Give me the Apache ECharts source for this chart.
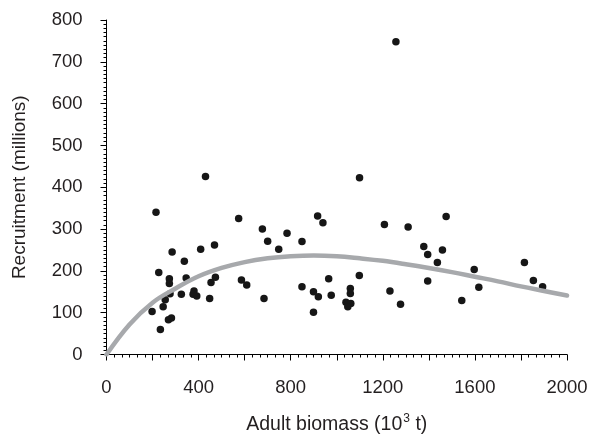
<!DOCTYPE html>
<html>
<head>
<meta charset="utf-8">
<script src="https://cdn.jsdelivr.net/npm/echarts@6/dist/echarts.min.js"></script>
<style>
  html, body { margin: 0; padding: 0; background: #fff; }
  #chart { width: 593px; height: 440px; }
</style>
</head>
<body>
<div id="chart"></div>
<script>
const biomass = [
    430, 215, 574, 469, 409, 285, 338, 227, 273, 346, 273, 473, 454, 586, 609,
    276, 325, 380, 376, 392, 448, 255, 246, 198, 269, 282, 234,
    1099, 677, 700, 748, 784, 849, 917, 940, 1207, 1310, 1378, 1395, 1395, 684,
    849, 899, 920, 899, 965, 976, 1059, 1059, 1040, 1061, 1048, 1098, 1231, 1277,
    1475, 1459, 1437, 1597, 1617, 1543, 1815, 1854, 1894,
    1257
];
const recruitment = [
    426, 340, 325, 262, 252, 245, 223, 196, 181, 183, 170, 185, 172, 178, 166,
    145, 144, 152, 144, 140, 134, 131, 114, 103, 83, 87, 60,
    423, 300, 271, 252, 290, 270, 331, 315, 311, 305, 258, 239, 176, 134,
    162, 150, 138, 101, 181, 142, 158, 146, 125, 122, 114, 189, 152, 120,
    330, 250, 220, 203, 161, 129, 220, 177, 162,
    748
];

// Fitted stock-recruitment curve, sampled from the figure every 100
const curveS = [0, 100, 200, 300, 400, 500, 600, 700, 800, 900, 1000,
                1100, 1200, 1300, 1400, 1500, 1600, 1700, 1800, 1900, 2000];
const curveR = [0, 72, 124, 158, 187, 207, 221, 230, 235, 237, 235,
                230, 224, 216, 207, 197, 186, 175, 163, 152, 141];

const xLabels = [0, 400, 800, 1200, 1600, 2000];

const points = biomass.map((s, i) => [s, recruitment[i]]);
const curve = curveS.map((s, i) => [s, curveR[i]]);

const font = 'Liberation Sans, Arial, Helvetica, sans-serif';
const textColor = '#231f20';

let chart = echarts.init(document.getElementById('chart'), null, { renderer: 'canvas' });

chart.setOption({
    backgroundColor: '#fff',
    animation: false,
    grid: { left: 106.5, right: 26, top: 20, bottom: 85, containLabel: false },
    xAxis: {
        type: 'value',
        min: 0,
        max: 2000,
        interval: 200,
        offset: 3.5,
        name: '{a|Adult biomass (10}{s|3}{a| t)}',
        nameLocation: 'middle',
        nameGap: 55,
        nameTextStyle: {
            rich: {
                a: { fontFamily: font, fontSize: 19.5, color: textColor, lineHeight: 24 },
                s: { fontFamily: font, fontSize: 12, color: textColor, verticalAlign: 'top', lineHeight: 14, padding: [0, 0, 0, 1] }
            }
        },
        axisLine: { show: true, lineStyle: { color: '#000', width: 1 } },
        axisTick: { show: true, length: 6, lineStyle: { color: '#000' } },
        minorTick: { show: true, splitNumber: 6, length: 3, lineStyle: { color: '#000' } },
        splitLine: { show: false },
        axisLabel: {
            margin: 20,
            fontFamily: font,
            fontSize: 18.5,
            color: textColor,
            formatter: v => xLabels.includes(v) ? String(v) : ''
        }
    },
    yAxis: {
        type: 'value',
        min: 0,
        max: 800,
        interval: 100,
        offset: 3,
        name: 'Recruitment (millions)',
        nameLocation: 'middle',
        nameRotate: 90,
        nameGap: 74,
        nameTextStyle: { fontFamily: font, fontSize: 19, color: textColor },
        axisLine: { show: true, lineStyle: { color: '#000', width: 1 } },
        axisTick: { show: true, length: 6, lineStyle: { color: '#000' } },
        minorTick: { show: true, splitNumber: 10, length: 3, lineStyle: { color: '#000' } },
        splitLine: { show: false },
        axisLabel: { margin: 21, fontFamily: font, fontSize: 18.5, color: textColor }
    },
    series: [
        {
            type: 'scatter',
            data: points,
            symbol: 'circle',
            symbolSize: 7.5,
            itemStyle: { color: '#161616', opacity: 1 },
            z: 2
        },
        {
            type: 'line',
            data: curve,
            smooth: 0.4,
            showSymbol: false,
            symbol: 'none',
            lineStyle: { color: '#a7a9ac', width: 4.5, cap: 'round' },
            z: 3
        }
    ]
});
</script>
</body>
</html>
